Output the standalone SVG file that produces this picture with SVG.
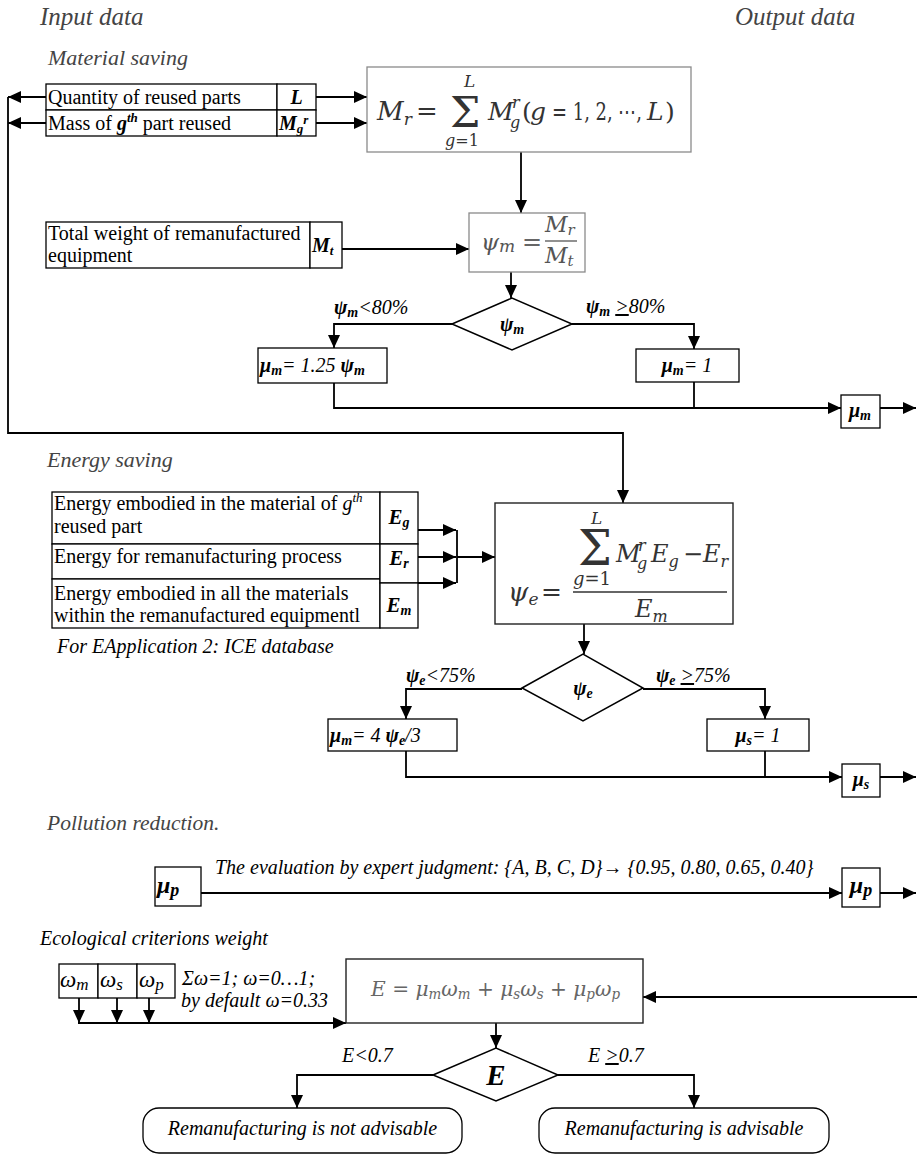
<svg xmlns="http://www.w3.org/2000/svg" width="917" height="1155" viewBox="0 0 917 1155">
<defs>
<marker id="ah" markerUnits="userSpaceOnUse" markerWidth="14" markerHeight="12" refX="13" refY="6" orient="auto">
<path d="M0,0 L13,6 L0,12 z" fill="#000"/>
</marker>
<style>
.t{font-family:"Liberation Serif","Times New Roman",serif;fill:#000}
.it{font-style:italic}
.b{font-weight:bold}
.g{fill:#444}
.box{fill:#fff;stroke:#000;stroke-width:1.3}
.fb{fill:#fff;stroke:#8a8a8a;stroke-width:1.3}
.db{fill:#fff;stroke:#222;stroke-width:1.4}
.con{fill:none;stroke:#000;stroke-width:1.8}
.ar{fill:none;stroke:#000;stroke-width:1.8;marker-end:url(#ah)}
.m{font-family:"DejaVu Serif",serif;fill:#333}
.mi{font-family:"DejaVu Serif",serif;font-style:italic;fill:#333}
.u{text-decoration:underline}
</style>
</defs>

<g id="headers">
<text class="t it g" x="40" y="25" font-size="25">Input data</text>
<text class="t it g" x="735" y="25" font-size="25">Output data</text>
<text class="t it g" x="48" y="65" font-size="22">Material saving</text>
<text class="t it g" x="47" y="467" font-size="22">Energy saving</text>
<text class="t it" x="57" y="653" font-size="20" fill="#555">For EApplication 2: ICE database</text>
<text class="t it g" x="47" y="830" font-size="21.5">Pollution reduction.</text>
<text class="t it" x="40" y="945" font-size="20" fill="#555">Ecological criterions weight</text>
</g>

<g id="connectors">
<path class="ar" d="M46,97 H8"/>
<path class="ar" d="M46,123 H8"/>
<path class="ar" d="M8,97 V433 H623 V503"/>
<path class="ar" d="M316,97 H367"/>
<path class="ar" d="M316,123 H367"/>
<path class="ar" d="M521,152 V213"/>
<path class="ar" d="M342,249 H469"/>
<path class="ar" d="M511,272 V298"/>
<path class="ar" d="M452,324 H334 V348"/>
<path class="ar" d="M572,324 H694 V349"/>
<path class="ar" d="M334,383 V408 H841"/>
<path class="con" d="M694,382 V408"/>
<path class="ar" d="M880,408 H916"/>
<path class="ar" d="M418,530 H456"/>
<path class="ar" d="M418,557 H456"/>
<path class="ar" d="M418,583 H456"/>
<path class="con" d="M457,530 V583"/>
<path class="ar" d="M457,557 H495"/>
<path class="ar" d="M584,624 V654"/>
<path class="ar" d="M522,689 H406 V719"/>
<path class="ar" d="M643,689 H765 V719"/>
<path class="ar" d="M406,751 V777 H842"/>
<path class="con" d="M765,751 V777"/>
<path class="ar" d="M880,777 H916"/>
<path class="ar" d="M201,893 H842"/>
<path class="ar" d="M880,893 H916"/>
<path class="ar" d="M79,998 V1023"/>
<path class="ar" d="M117,998 V1023"/>
<path class="ar" d="M149,998 V1023"/>
<path class="ar" d="M78,1023 H346"/>
<path class="ar" d="M917,997 H643"/>
<path class="ar" d="M496,1023 V1048"/>
<path class="ar" d="M433,1075 H297 V1108"/>
<path class="ar" d="M558,1075 H694 V1108"/>
</g>

<g id="quantity">
<rect class="box" x="46" y="84" width="231" height="26"/>
<rect class="box" x="277" y="84" width="39" height="26"/>
<text class="t" x="48" y="104" font-size="20">Quantity of reused parts</text>
<text class="t it b" x="296.5" y="104" font-size="20" text-anchor="middle">L</text>
</g>

<g id="mass">
<rect class="box" x="46" y="110" width="231" height="26"/>
<rect class="box" x="277" y="110" width="39" height="26"/>
<text class="t" x="48" y="130" font-size="20">Mass of <tspan class="it b">g</tspan><tspan class="it b" font-size="13" dy="-8">th</tspan><tspan dy="8"> part reused</tspan></text>
<text class="t it b" x="279" y="130" font-size="20">M<tspan font-size="13" dy="3">g</tspan><tspan font-size="13" dy="-9">r</tspan></text>
</g>

<g id="mr-formula">
<rect class="fb" x="367" y="67" width="324" height="85"/>
<text class="mi" x="377" y="120" font-size="26">M<tspan font-size="17" dy="5">r</tspan></text>
<text class="m" x="416" y="120" font-size="26">=</text>
<text class="m" x="450" y="127" font-size="43">Σ</text>
<text class="mi" x="464" y="87" font-size="17">L</text>
<text class="m" x="445" y="146" font-size="16"><tspan font-style="italic">g</tspan>=1</text>
<text class="mi" x="488" y="120" font-size="25">M</text>
<text class="mi" x="512" y="108" font-size="16">r</text>
<text class="mi" x="510" y="128" font-size="16">g</text>
<text class="m" x="522" y="120" font-size="25">(</text>
<text class="mi" x="530" y="120" font-size="25">g</text>
<text class="m" x="552" y="120" font-size="25" textLength="90" lengthAdjust="spacingAndGlyphs">= 1, 2, ⋯,</text>
<text class="mi" x="647" y="120" font-size="25">L</text>
<text class="m" x="665" y="120" font-size="25">)</text>
</g>

<g id="total-weight">
<rect class="box" x="46" y="222" width="264" height="46"/>
<rect class="box" x="310" y="222" width="32" height="46"/>
<text class="t" x="48" y="240" font-size="20">Total weight of remanufactured</text>
<text class="t" x="48" y="262" font-size="20">equipment</text>
<text class="t it b" x="312" y="252" font-size="20">M<tspan font-size="13" dy="3">t</tspan></text>
</g>

<g id="psi-m-formula">
<rect class="fb" x="469" y="213" width="116" height="59"/>
<text class="mi" x="481" y="250" font-size="23" style="fill:#555">ψ<tspan font-size="17" dy="2">m</tspan></text>
<text class="m" x="522" y="250" font-size="24" style="fill:#666">=</text>
<text class="mi" x="545" y="232" font-size="22" style="fill:#555">M<tspan font-size="15" dy="3">r</tspan></text>
<line x1="545" y1="241" x2="577" y2="241" stroke="#555" stroke-width="1.3"/>
<text class="mi" x="545" y="263" font-size="22" style="fill:#555">M<tspan font-size="15" dy="3">t</tspan></text>
</g>

<g id="psi-m-decision">
<polygon points="452,324 512,298 572,324 512,350" fill="#fff" stroke="#000" stroke-width="1.5"/>
<text class="t it b" x="512" y="331" font-size="20" text-anchor="middle">ψ<tspan font-size="14" dy="3">m</tspan></text>
<text class="t it" x="334" y="314" font-size="20"><tspan class="b">ψ</tspan><tspan class="b" font-size="14" dy="3">m</tspan><tspan dy="-3">&lt;80%</tspan></text>
<text class="t it" x="586" y="313" font-size="20"><tspan class="b">ψ</tspan><tspan class="b" font-size="14" dy="3">m</tspan><tspan dy="-3"> </tspan><tspan class="u">&gt;</tspan>80%</text>
</g>

<g id="mu-m-low">
<rect class="box" x="258" y="348" width="129" height="35"/>
<text class="t it" x="260" y="372" font-size="20"><tspan class="b">μ</tspan><tspan class="b" font-size="14" dy="3">m</tspan><tspan dy="-3">= 1.25 </tspan><tspan class="b">ψ</tspan><tspan class="b" font-size="14" dy="3">m</tspan></text>
</g>

<g id="mu-m-high">
<rect class="box" x="636" y="349" width="103" height="33"/>
<text class="t it" x="687" y="372" font-size="20" text-anchor="middle"><tspan class="b">μ</tspan><tspan class="b" font-size="14" dy="3">m</tspan><tspan dy="-3">= 1</tspan></text>
</g>

<g id="mu-m-out">
<rect class="box" x="841" y="395" width="39" height="33"/>
<text class="t it b" x="860" y="417" font-size="20" text-anchor="middle">μ<tspan font-size="14" dy="3">m</tspan></text>
</g>

<g id="energy-table">
<rect class="box" x="52" y="492" width="328" height="52"/>
<rect class="box" x="52" y="544" width="328" height="35"/>
<rect class="box" x="52" y="579" width="328" height="49"/>
<rect class="box" x="380" y="492" width="38" height="52"/>
<rect class="box" x="380" y="544" width="38" height="39"/>
<rect class="box" x="380" y="583" width="38" height="45"/>
<text class="t" x="54" y="510" font-size="20">Energy embodied in the material of <tspan class="it">g</tspan><tspan class="it" font-size="13" dy="-8">th</tspan></text>
<text class="t" x="54" y="533" font-size="20">reused part</text>
<text class="t" x="54" y="563" font-size="20">Energy for remanufacturing process</text>
<text class="t" x="54" y="600" font-size="20">Energy embodied in all the materials</text>
<text class="t" x="54" y="622" font-size="20">within the remanufactured equipmentl</text>
<text class="t it b" x="399" y="524" font-size="21" text-anchor="middle">E<tspan font-size="14" dy="3">g</tspan></text>
<text class="t it b" x="399" y="565" font-size="21" text-anchor="middle">E<tspan font-size="14" dy="3">r</tspan></text>
<text class="t it b" x="399" y="612" font-size="21" text-anchor="middle">E<tspan font-size="14" dy="3">m</tspan></text>
</g>

<g id="psi-e-formula">
<rect class="db" x="495" y="503" width="238" height="121"/>
<text class="mi" x="508" y="601" font-size="26">ψ<tspan font-size="17" dy="4">e</tspan></text>
<text class="m" x="541" y="600" font-size="25">=</text>
<text class="m" x="578" y="565" font-size="48">Σ</text>
<text class="mi" x="591" y="524" font-size="17">L</text>
<text class="m" x="573" y="585" font-size="18"><tspan font-style="italic">g</tspan>=1</text>
<text class="mi" x="616" y="562" font-size="24">M</text>
<text class="mi" x="638" y="551" font-size="16">r</text>
<text class="mi" x="637" y="569" font-size="16">g</text>
<text class="mi" x="651" y="562" font-size="24">E<tspan font-size="16" dy="5">g</tspan></text>
<text class="m" x="683" y="562" font-size="24">−</text>
<text class="mi" x="703" y="562" font-size="24">E<tspan font-size="16" dy="5">r</tspan></text>
<line x1="573" y1="592" x2="727" y2="592" stroke="#333" stroke-width="1.3"/>
<text class="mi" x="635" y="617" font-size="24">E<tspan font-size="16" dy="5">m</tspan></text>
</g>

<g id="psi-e-decision">
<polygon points="522,688 583,654 643,688 583,721" fill="#fff" stroke="#000" stroke-width="1.5"/>
<text class="t it b" x="583" y="695" font-size="20" text-anchor="middle">ψ<tspan font-size="14" dy="3">e</tspan></text>
<text class="t it" x="406" y="682" font-size="20"><tspan class="b">ψ</tspan><tspan class="b" font-size="14" dy="3">e</tspan><tspan dy="-3">&lt;75%</tspan></text>
<text class="t it" x="656" y="682" font-size="20"><tspan class="b">ψ</tspan><tspan class="b" font-size="14" dy="3">e</tspan><tspan dy="-3"> </tspan><tspan class="u">&gt;</tspan>75%</text>
</g>

<g id="mu-e-low">
<rect class="box" x="328" y="719" width="129" height="32"/>
<text class="t it" x="330" y="742" font-size="20"><tspan class="b">μ</tspan><tspan class="b" font-size="14" dy="3">m</tspan><tspan dy="-3">= 4 </tspan><tspan class="b">ψ</tspan><tspan class="b" font-size="14" dy="3">e</tspan><tspan dy="-3">/3</tspan></text>
</g>

<g id="mu-e-high">
<rect class="box" x="707" y="719" width="102" height="32"/>
<text class="t it" x="758" y="742" font-size="20" text-anchor="middle"><tspan class="b">μ</tspan><tspan class="b" font-size="14" dy="3">s</tspan><tspan dy="-3">= 1</tspan></text>
</g>

<g id="mu-s-out">
<rect class="box" x="842" y="764" width="38" height="33"/>
<text class="t it b" x="861" y="786" font-size="20" text-anchor="middle">μ<tspan font-size="14" dy="3">s</tspan></text>
</g>

<g id="mu-p-in">
<rect class="box" x="155" y="867" width="46" height="39"/>
<text class="t it b" x="157" y="893" font-size="24">μ<tspan font-size="18" dy="3">p</tspan></text>
</g>

<g id="expert-label">
<text class="t it" x="215" y="874" font-size="20">The evaluation by expert judgment: {A, B, C, D}→ {0.95, 0.80, 0.65, 0.40}</text>
</g>

<g id="mu-p-out">
<rect class="box" x="842" y="868" width="38" height="39"/>
<text class="t it b" x="861" y="893" font-size="24" text-anchor="middle">μ<tspan font-size="18" dy="3">p</tspan></text>
</g>

<g id="weights">
<rect class="box" x="59" y="964" width="39" height="34"/>
<rect class="box" x="98" y="964" width="39" height="34"/>
<rect class="box" x="137" y="964" width="38" height="34"/>
<text class="t it" x="60" y="987" font-size="23">ω<tspan font-size="17" dy="3">m</tspan></text>
<text class="t it" x="100" y="987" font-size="23">ω<tspan font-size="17" dy="3">s</tspan></text>
<text class="t it" x="139" y="987" font-size="23">ω<tspan font-size="17" dy="3">p</tspan></text>
<text class="t it" x="182" y="985" font-size="20">Σω=1; ω=0…1;</text>
<text class="t it" x="181" y="1007" font-size="20">by default ω=0.33</text>
</g>

<g id="e-formula">
<rect class="db" x="346" y="959" width="297" height="64"/>
<text class="mi" x="371" y="996" font-size="21" style="fill:#666" textLength="249" lengthAdjust="spacingAndGlyphs">E <tspan font-style="normal">=</tspan> μ<tspan font-size="14" dy="3">m</tspan><tspan dy="-3">ω</tspan><tspan font-size="14" dy="3">m</tspan><tspan dy="-3" font-style="normal"> + </tspan>μ<tspan font-size="14" dy="3">s</tspan><tspan dy="-3">ω</tspan><tspan font-size="14" dy="3">s</tspan><tspan dy="-3" font-style="normal"> + </tspan>μ<tspan font-size="14" dy="3">p</tspan><tspan dy="-3">ω</tspan><tspan font-size="14" dy="3">p</tspan></text>
</g>

<g id="e-decision">
<polygon points="433,1075 496,1048 558,1075 496,1101" fill="#fff" stroke="#000" stroke-width="1.5"/>
<text class="t it b" x="496" y="1085" font-size="29" text-anchor="middle">E</text>
<text class="t it" x="342" y="1062" font-size="20">E&lt;0.7</text>
<text class="t it" x="588" y="1062" font-size="20">E <tspan class="u">&gt;</tspan>0.7</text>
</g>

<g id="not-advisable">
<rect class="box" x="143" y="1108" width="319" height="45" rx="16"/>
<text class="t it" x="302.5" y="1135" font-size="20" text-anchor="middle">Remanufacturing is not advisable</text>
</g>

<g id="advisable">
<rect class="box" x="539" y="1108" width="290" height="45" rx="16"/>
<text class="t it" x="684" y="1135" font-size="20" text-anchor="middle">Remanufacturing is advisable</text>
</g>
</svg>
